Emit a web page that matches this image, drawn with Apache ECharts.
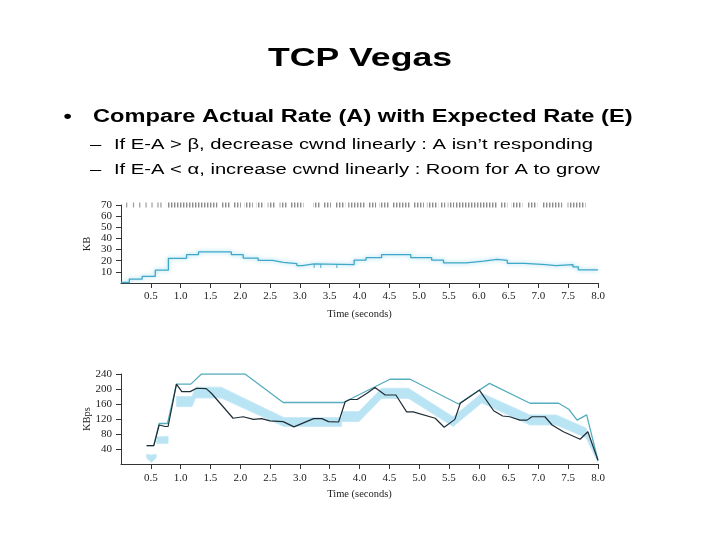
<!DOCTYPE html>
<html>
<head>
<meta charset="utf-8">
<script src="https://cdn.jsdelivr.net/npm/echarts@6/dist/echarts.min.js"></script>
<style>html,body{margin:0;padding:0;background:#fff}#c{width:720px;height:540px}</style>
</head>
<body>
<div id="c"></div>
<script>
// ---------- data ----------
const xTickLabels = ['0.5','1.0','1.5','2.0','2.5','3.0','3.5','4.0','4.5','5.0','5.5','6.0','6.5','7.0','7.5','8.0'];
const kbTicks = [10, 20, 30, 40, 50, 60, 70];
const kbpsTicks = [40, 80, 120, 160, 200, 240];

// packet transmission marks on top row (start, end) in seconds
const sendMarks = [
  [0.095,0.095],[0.21,0.21],[0.315,0.315],[0.42,0.42],[0.52,0.52],[0.62,0.62],[0.67,0.67],
  [0.77,1.36],[1.36,1.62],[1.69,1.83],[1.88,2.01],[2.07,2.21],[2.27,2.40],[2.46,2.59],
  [2.66,2.79],[2.85,3.06],[3.22,3.34],[3.40,3.52],[3.59,3.76],[3.81,4.11],[4.14,4.28],
  [4.33,4.51],[4.55,4.86],[4.91,5.08],[5.13,5.32],[5.36,5.44],[5.48,5.59],[5.61,6.32],
  [6.36,6.48],[6.55,6.73],[6.81,6.98],[7.06,7.40],[7.49,7.79]
];

// congestion window (KB), value holds from t until next t
const cwndTimes = [0,0.14,0.355,0.575,0.795,1.10,1.30,1.85,2.05,2.30,2.545,2.72,2.95,3.04,3.24,3.91,4.11,4.37,4.86,5.21,5.41,5.79,6.08,6.31,6.48,6.77,7.12,7.29,7.58,7.67,8.0];
const cwndKB    = [0.5,3.5,5.9,11.5,22.1,25.4,28.0,25.4,22.4,20.3,18.6,17.4,15.6,17.1,16.5,20.6,22.7,25.4,22.7,20.6,18.0,19.7,21.2,20.3,17.7,16.5,15.6,16.5,14.4,11.8,11.8];
const cwndMarkTimes = [3.24, 3.35, 3.62];

// expected rate (KBps)
const expTimes = [0.43,0.55,0.64,0.78,0.93,1.17,1.35,2.08,2.72,3.73,4.26,4.51,4.85,5.66,6.18,6.86,7.34,7.51,7.65,7.81,8.0];
const expRate  = [49,49,108,108,213,213,240,240,164,164,206,226,226,160,215,162,162,146,117,131,9];

// actual rate (KBps)
const actTimes = [0.43,0.55,0.64,0.74,0.79,0.93,1.02,1.16,1.27,1.43,1.52,1.88,2.05,2.22,2.36,2.50,2.72,2.90,3.23,3.37,3.48,3.65,3.76,3.84,3.96,4.12,4.26,4.43,4.61,4.79,4.90,5.27,5.42,5.60,5.69,6.01,6.25,6.40,6.52,6.69,6.81,6.89,7.11,7.23,7.42,7.70,7.83,8.0];
const actRate  = [49,49,104,100,100,213,193,193,202,201,188,122,126,119,121,115,113,99,121,121,113,112,166,172,172,188,204,184,184,139,139,122,98,119,162,197,142,128,126,117,117,126,126,104,86,66,86,10];

// alpha/beta band (KBps); null = gap between pieces
const bandTimes = [0.43,0.51,0.59,null,0.60,0.79,null,0.93,1.19,1.25,1.68,2.73,3.70,3.70,3.99,4.37,4.82,5.57,6.05,6.86,7.30,7.80,8.00];
const bandLow   = [16,4,16,null,55,55,null,153,153,176,176,100,100,113,113,175,175,100,163,104,104,70,4];
const bandHigh  = [26,24,26,null,72,74,null,180,180,205,205,124,124,140,140,202,202,126,189,131,131,96,12];

// ---------- chart ----------
const serif = '"Liberation Serif","DejaVu Serif",serif';
const sans = '"Liberation Sans",Arial,sans-serif';

// split band arrays into pieces at the nulls
const bandPieces = [];
(function () {
  let cur = [];
  bandTimes.forEach((t, i) => {
    if (t == null) { if (cur.length) bandPieces.push(cur); cur = []; }
    else cur.push(i);
  });
  if (cur.length) bandPieces.push(cur);
})();

const pat = document.createElement('canvas');
pat.width = 3; pat.height = 8;
(function(){const g = pat.getContext('2d'); g.fillStyle = '#8c8c8c'; g.fillRect(0,0,1,8); g.fillStyle = '#cfcfcf'; g.fillRect(1,0,1,8);})();

function xAxisCfg(gi, margin, nameGap) {
  return {
    gridIndex: gi, type: 'value', min: 0, max: 8, interval: 0.5,
    axisLine: {show: true, lineStyle: {color: '#333', width: 1}},
    axisTick: {show: true, length: 5, lineStyle: {color: '#333'}},
    axisLabel: {
      formatter: v => { const s = v.toFixed(1); return xTickLabels.indexOf(s) >= 0 ? s : ''; },
      showMinLabel: false, color: '#222', fontFamily: serif, fontSize: 11, margin: margin
    },
    splitLine: {show: false},
    name: 'Time (seconds)', nameLocation: 'middle', nameGap: nameGap, nameMoveOverlap: false,
    nameTextStyle: {fontFamily: serif, fontSize: 10.5, color: '#222'}
  };
}
function yAxisCfg(gi, max, interval, ticks, name) {
  return {
    gridIndex: gi, type: 'value', min: 0, max: max, interval: interval,
    axisLine: {show: true, lineStyle: {color: '#333', width: 1}},
    axisTick: {show: true, length: 5, lineStyle: {color: '#333'}},
    axisLabel: {
      formatter: v => ticks.indexOf(v) >= 0 ? String(v) : '',
      showMinLabel: false, color: '#222', fontFamily: serif, fontSize: 11, margin: 9
    },
    splitLine: {show: false},
    name: name, nameLocation: 'middle', nameGap: 28, nameMoveOverlap: false,
    nameTextStyle: {fontFamily: serif, fontSize: 10.5, color: '#222'}
  };
}

const chart = echarts.init(document.getElementById('c'), null, {renderer: 'canvas'});
chart.setOption({
  animation: false,
  backgroundColor: '#fff',
  grid: [
    {left: 121, right: 122, top: 205, height: 78, containLabel: false, outerBoundsMode: 'none'},
    {left: 121, right: 122, top: 374, height: 90, containLabel: false, outerBoundsMode: 'none'}
  ],
  xAxis: [xAxisCfg(0, 8, 26), xAxisCfg(1, 9, 25)],
  yAxis: [yAxisCfg(0, 70, 10, kbTicks, 'KB'), yAxisCfg(1, 240, 40, kbpsTicks, 'KBps')],
  graphic: [
    {type: 'text', x: 360, y: 58.5, scaleX: 1.37, style: {text: 'TCP Vegas', font: 'bold 26px ' + sans, fill: '#000', align: 'center', verticalAlign: 'middle'}},
    {type: 'text', x: 63.5, y: 117, scaleX: 1.35, style: {text: '•', font: 'bold 17.5px ' + sans, fill: '#000', align: 'left', verticalAlign: 'middle'}},
    {type: 'text', x: 93, y: 117, scaleX: 1.35, style: {text: 'Compare Actual Rate (A) with Expected Rate (E)', font: 'bold 17.5px ' + sans, fill: '#000', align: 'left', verticalAlign: 'middle'}},
    {type: 'text', x: 90, y: 145, scaleX: 1.32, style: {text: '–', font: '15.3px ' + sans, fill: '#000', align: 'left', verticalAlign: 'middle'}},
    {type: 'text', x: 114, y: 145, scaleX: 1.32, style: {text: 'If E-A > β, decrease cwnd linearly : A isn’t responding', font: '15.3px ' + sans, fill: '#000', align: 'left', verticalAlign: 'middle'}},
    {type: 'text', x: 90, y: 170, scaleX: 1.32, style: {text: '–', font: '15.3px ' + sans, fill: '#000', align: 'left', verticalAlign: 'middle'}},
    {type: 'text', x: 114, y: 170, scaleX: 1.32, style: {text: 'If E-A < α, increase cwnd linearly : Room for A to grow', font: '15.3px ' + sans, fill: '#000', align: 'left', verticalAlign: 'middle'}}
  ],
  series: [
    {
      type: 'custom', xAxisIndex: 0, yAxisIndex: 0, clip: false,
      data: sendMarks.map(m => [m[0], m[1], 70]),
      encode: {x: [0, 1], y: 2},
      renderItem: function (params, api) {
        const t0 = api.value(0), t1 = api.value(1);
        const p0 = api.coord([t0, 72.2]);
        const p1 = api.coord([t1, 67.8]);
        const single = t1 <= t0;
        const w = single ? 1.2 : Math.max(p1[0] - p0[0], 1.2);
        return {
          type: 'rect',
          shape: {x: single ? p0[0] - 0.6 : p0[0], y: p0[1], width: w, height: p1[1] - p0[1]},
          style: {fill: single ? '#9a9a9a' : {image: pat, repeat: 'repeat'}}
        };
      }
    },
    {
      type: 'line', xAxisIndex: 0, yAxisIndex: 0, step: 'end', showSymbol: false,
      data: cwndTimes.map((t, i) => [t, cwndKB[i]]),
      lineStyle: {color: '#3ea8c8', width: 1.3, shadowColor: 'rgba(110,200,230,0.9)', shadowBlur: 4}
    },
    {
      type: 'scatter', xAxisIndex: 0, yAxisIndex: 0, symbol: 'rect', symbolSize: [1.2, 4],
      data: cwndMarkTimes.map(t => [t, 15.2]),
      itemStyle: {color: '#3ea8c8'}
    },
    {
      type: 'custom', xAxisIndex: 1, yAxisIndex: 1, clip: true, silent: true,
      data: bandPieces.map((idx, k) => [bandTimes[idx[0]], bandTimes[idx[idx.length - 1]], k]),
      encode: {x: [0, 1]},
      renderItem: function (params, api) {
        const idx = bandPieces[api.value(2)];
        const pts = [];
        idx.forEach(i => pts.push(api.coord([bandTimes[i], bandHigh[i]])));
        idx.slice().reverse().forEach(i => pts.push(api.coord([bandTimes[i], bandLow[i]])));
        return {type: 'polygon', shape: {points: pts}, style: {fill: '#b9e4f4', stroke: '#c6e9f6', lineWidth: 0.8}};
      }
    },
    {
      type: 'line', xAxisIndex: 1, yAxisIndex: 1, showSymbol: false,
      data: expTimes.map((t, i) => [t, expRate[i]]),
      lineStyle: {color: '#55adbd', width: 1.3}
    },
    {
      type: 'line', xAxisIndex: 1, yAxisIndex: 1, showSymbol: false,
      data: actTimes.map((t, i) => [t, actRate[i]]),
      lineStyle: {color: '#1f2d35', width: 1.2}
    }
  ]
});
</script>
</body>
</html>
